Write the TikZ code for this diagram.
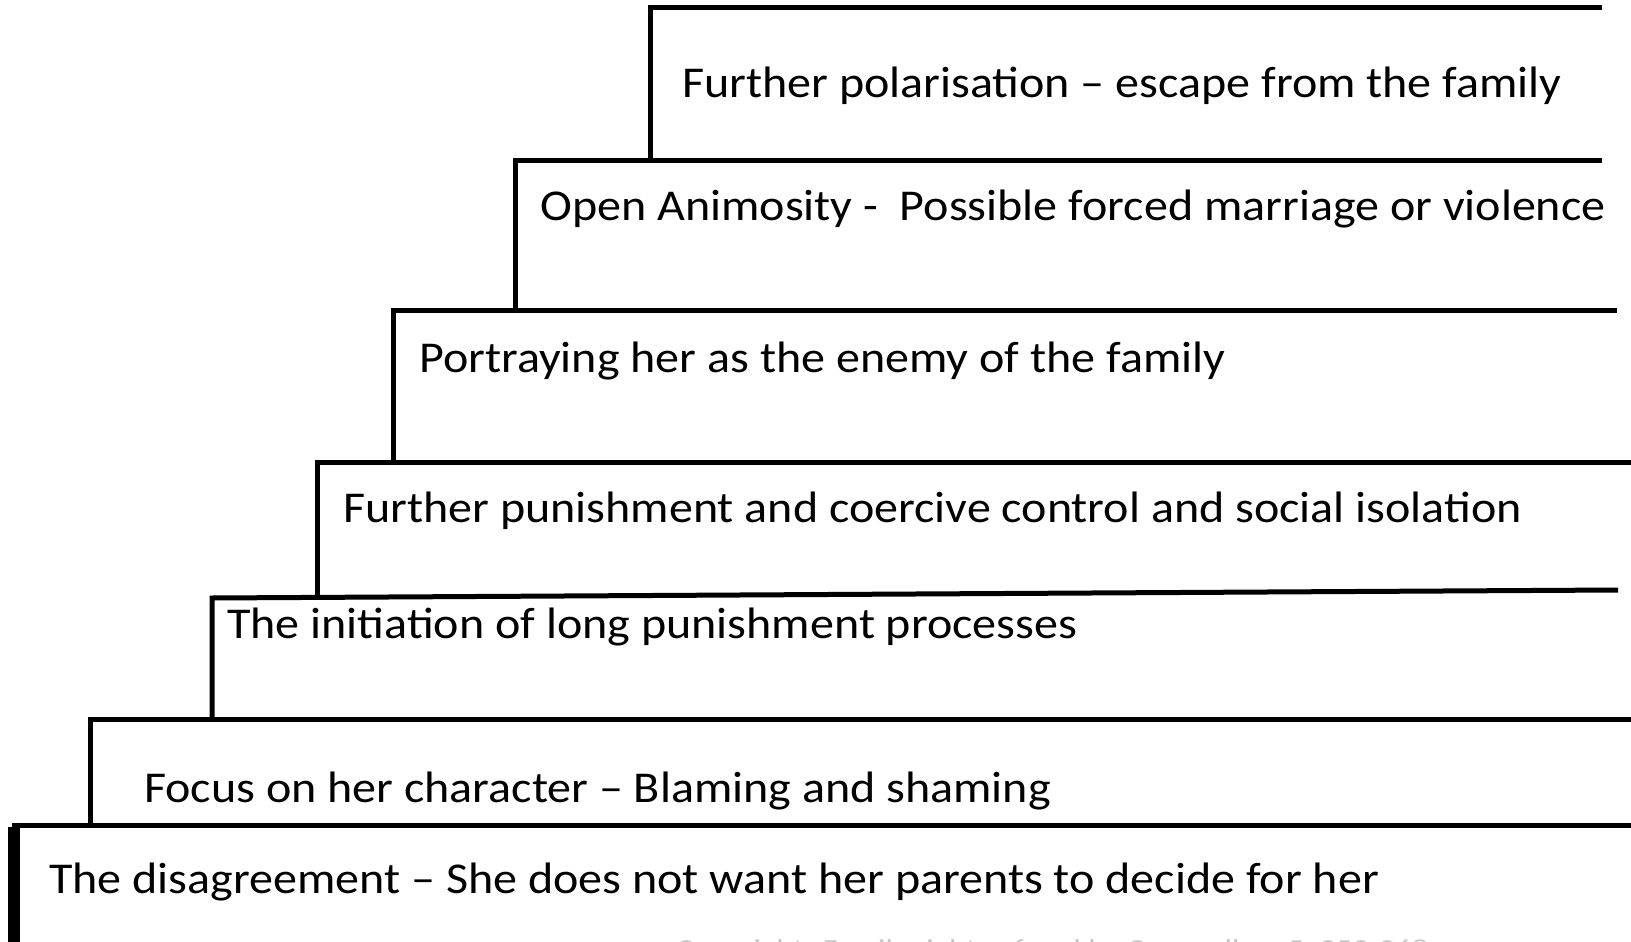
\documentclass[tikz,border=0pt]{standalone}
\usepackage{fontspec}
\setmainfont{Carlito}
\newcommand{\widetext}[1]{\scalebox{1.092}[1]{#1}}
\begin{document}
\begin{tikzpicture}[x=1pt,y=-1pt,
  stepline/.style={line width=5pt, line join=miter},
  steptext/.style={anchor=base west, inner sep=0pt, font=\fontsize{44}{48}\selectfont},
  notetext/.style={anchor=base west, inner sep=0pt, text=black!22, font=\fontsize{26}{30}\selectfont}]
\useasboundingbox (0,0) rectangle (1631,942);
\begin{scope}
\clip (0,0) rectangle (1631,942);
% step outlines
\draw[stepline] (650,160) -- (650,8) -- (1602,8);
\draw[stepline] (515,310) -- (515,160) -- (1602,160);
\draw[stepline] (393,462) -- (393,310) -- (1617,310);
\draw[stepline] (317,598) -- (317,462) -- (1640,462);
\draw[stepline] (212,719) -- (212,598) -- (1618,590);
\draw[stepline] (90,825) -- (90,719) -- (1640,719);
\draw[stepline] (14,950) -- (14,825) -- (1640,825);
\draw[line width=12pt] (14,827) -- (14,950);
% labels
\node[steptext] (s1) at (682,97) {\widetext{Further polarisation – escape from the family}};
\node[steptext] (s2) at (540,220) {\widetext{Open Animosity -\ \ Possible forced marriage or violence}};
\node[steptext] (s3) at (419,372) {\widetext{Portraying her as the enemy of the family}};
\node[steptext] (s4) at (343,522) {\widetext{Further punishment and coercive control and social isolation}};
\node[steptext] (s5) at (227,638) {\widetext{The initiation of long punishment processes}};
\node[steptext] (s6) at (144,802) {\widetext{Focus on her character – Blaming and shaming}};
\node[steptext] (s7) at (49,893) {\widetext{The disagreement – She does not want her parents to decide for her}};
\node[notetext] (note) at (676,957) {\scalebox{1.25}[1]{Copyright: Family rights of and by Counsellors 5, 253-268}};
\end{scope}
\end{tikzpicture}
\end{document}
